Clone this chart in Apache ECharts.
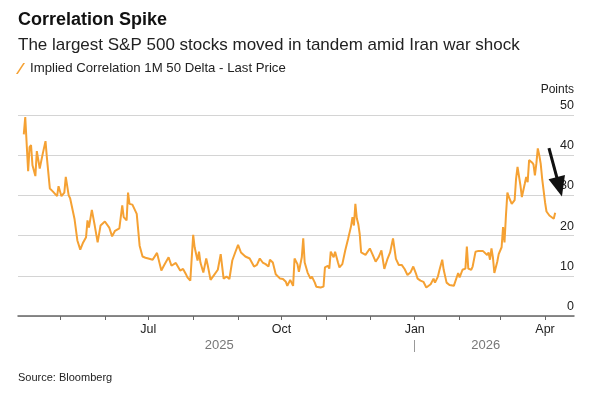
<!DOCTYPE html>
<html>
<head>
<meta charset="utf-8">
<script src="https://cdn.jsdelivr.net/npm/echarts@6/dist/echarts.min.js"></script>
<style>
  html, body { margin: 0; padding: 0; background: #fff; }
  #chart { width: 606px; height: 397px; }
</style>
</head>
<body>
<div id="chart"></div>
<script>
// implied correlation
const dates = [
  '2025-04-06','2025-04-07','2025-04-09','2025-04-10','2025-04-11','2025-04-12','2025-04-14','2025-04-15','2025-04-17','2025-04-19',
  '2025-04-21','2025-04-22','2025-04-24','2025-04-26','2025-04-27','2025-04-29','2025-04-30','2025-05-02','2025-05-04','2025-05-05',
  '2025-05-07','2025-05-08','2025-05-11','2025-05-13','2025-05-15','2025-05-17','2025-05-19','2025-05-20','2025-05-21','2025-05-23',
  '2025-05-25','2025-05-27','2025-05-29','2025-06-01','2025-06-04','2025-06-06','2025-06-08','2025-06-11','2025-06-13','2025-06-14',
  '2025-06-16','2025-06-17','2025-06-18','2025-06-20','2025-06-23','2025-06-25','2025-06-27','2025-06-29','2025-07-01','2025-07-04',
  '2025-07-07','2025-07-10','2025-07-12','2025-07-15','2025-07-17','2025-07-20','2025-07-21','2025-07-23','2025-07-25','2025-07-27',
  '2025-07-28','2025-07-30','2025-08-01','2025-08-02','2025-08-04','2025-08-05','2025-08-06','2025-08-08','2025-08-10','2025-08-11',
  '2025-08-13','2025-08-15','2025-08-18','2025-08-20','2025-08-22','2025-08-24','2025-08-26','2025-08-28','2025-08-30','2025-09-01',
  '2025-09-03','2025-09-06','2025-09-09','2025-09-12','2025-09-14','2025-09-16','2025-09-18','2025-09-20','2025-09-22','2025-09-23',
  '2025-09-25','2025-09-27','2025-09-28','2025-09-30','2025-10-02','2025-10-04','2025-10-05','2025-10-07','2025-10-09','2025-10-10',
  '2025-10-12','2025-10-13','2025-10-15','2025-10-16','2025-10-17','2025-10-19','2025-10-21','2025-10-22','2025-10-24','2025-10-25',
  '2025-10-28','2025-10-30','2025-10-31','2025-11-02','2025-11-03','2025-11-04','2025-11-06','2025-11-07','2025-11-09','2025-11-10',
  '2025-11-12','2025-11-14','2025-11-16','2025-11-18','2025-11-19','2025-11-20','2025-11-21','2025-11-22','2025-11-23','2025-11-24',
  '2025-11-25','2025-11-28','2025-11-29','2025-12-01','2025-12-03','2025-12-05','2025-12-07','2025-12-09','2025-12-11','2025-12-13',
  '2025-12-15','2025-12-17','2025-12-19','2025-12-21','2025-12-22','2025-12-23','2025-12-25','2025-12-27','2025-12-29','2025-12-31',
  '2026-01-02','2026-01-03','2026-01-05','2026-01-07','2026-01-09','2026-01-10','2026-01-12','2026-01-14','2026-01-15','2026-01-17',
  '2026-01-18','2026-01-20','2026-01-21','2026-01-23','2026-01-25','2026-01-28','2026-01-29','2026-01-31','2026-02-01','2026-02-03',
  '2026-02-05','2026-02-06','2026-02-07','2026-02-09','2026-02-10','2026-02-12','2026-02-14','2026-02-17','2026-02-18','2026-02-20',
  '2026-02-21','2026-02-22','2026-02-23','2026-02-24','2026-02-25','2026-02-27','2026-02-28','2026-03-02','2026-03-03','2026-03-04',
  '2026-03-05','2026-03-06','2026-03-07','2026-03-09','2026-03-11','2026-03-12','2026-03-13','2026-03-15','2026-03-16','2026-03-17',
  '2026-03-18','2026-03-19','2026-03-20','2026-03-21','2026-03-23','2026-03-24','2026-03-25','2026-03-26','2026-03-27','2026-03-28',
  '2026-03-29','2026-03-30','2026-04-01','2026-04-02','2026-04-04','2026-04-05','2026-04-07','2026-04-08'
];
const values = [
  45.2, 49.5, 36, 42, 42.5, 37.5, 34.8, 41, 36.7, 40.2,
  43.5, 39.2, 31.7, 31, 30.7, 29.8, 32.3, 29.8, 30.7, 34.6,
  30, 29.3, 24.2, 18.8, 16.5, 18.3, 19.6, 23.8, 22, 26.4,
  22.5, 18.3, 22.5, 23.5, 22, 19.8, 21.2, 21.8, 27.5, 24.6,
  23.8, 30.7, 27.9, 27.7, 25.4, 17.5, 14.8, 14.5, 14.3, 14,
  15.7, 11.3, 12.7, 14.6, 12.5, 13.2, 13.5, 11.3, 11.7, 10.4,
  9.6, 8.8, 20.2, 17.1, 13.8, 16, 13.3, 10.8, 14.3, 12.7,
  9, 10, 11.5, 15.4, 9.3, 9.8, 9.2, 13.8, 15.8, 17.7,
  15.8, 14.8, 14.3, 12.3, 12.7, 14.3, 13.3, 12.9, 12.3, 14,
  13.3, 10.4, 10.3, 9.3, 9.2, 8.5, 7.5, 9, 7.5, 14.3,
  12.9, 11, 14.6, 19.3, 13.3, 10.8, 9.3, 9.8, 8.3, 7.3,
  7.1, 7.3, 12.1, 12.5, 11.8, 16, 14.6, 16, 13.3, 12.1,
  12.9, 16.3, 19.2, 22.3, 24.6, 22.5, 27.9, 24.3, 22.9, 20.4,
  15.8, 15.2, 14.8, 16.8, 15.2, 13.5, 14.6, 16.3, 11.7, 14,
  15.8, 19.3, 14.2, 12.7, 12.3, 12.7, 11.7, 10.2, 10.8, 12.3,
  10.4, 9.3, 8.8, 8.5, 7.1, 7.5, 7.9, 9.3, 8.3, 9.8,
  11.3, 14, 11.5, 8.3, 7.7, 7.5, 7.5, 10.7, 9.6, 11.5,
  11.8, 17.3, 11.8, 11.5, 12.3, 16, 16.2, 16.2, 16, 15.2,
  15.8, 14, 16.8, 14.6, 10.7, 13.5, 15.4, 17.1, 22.1, 18.3,
  25, 30.7, 29.6, 27.9, 28.8, 34.2, 37.1, 32.5, 29.6, 29.3,
  32.9, 34.6, 33.3, 38.8, 38.2, 37.7, 35, 37.9, 41.7, 40,
  37.9, 34.2, 28.3, 26, 25, 24.6, 24.2, 25.7
];

const seriesName = 'Implied Correlation 1M 50 Delta - Last Price';
const xMin = '2025-04-02';
const xMax = '2026-04-21';
const monthTicks = ['2025-05-01','2025-06-01','2025-07-01','2025-08-01','2025-09-01','2025-10-01',
  '2025-11-01','2025-12-01','2026-01-01','2026-02-01','2026-03-01','2026-04-01'];
const monthLabels = ['2025-07-01','2025-10-01','2026-01-01','2026-04-01'];
const yearLabels = ['2025-08-19','2026-02-19'];
const yearDivider = ['2026-01-01'];
const yTicks = [0, 10, 20, 30, 40, 50];
// arrow annotation: [date, value] from tail to head centre
const arrowFrom = ['2026-04-03T17:00', 41.75];
const arrowTo = ['2026-04-10T21:00', 32.15];

const MONTHS = ['Jan','Feb','Mar','Apr','May','Jun','Jul','Aug','Sep','Oct','Nov','Dec'];
const ts = s => +new Date(s.length === 10 ? s + 'T00:00:00' : s);
const FONT = '"Liberation Sans", Arial, Helvetica, sans-serif';

const chart = echarts.init(document.getElementById('chart'));
const option = {
  backgroundColor: '#fff',
  animation: false,
  textStyle: { fontFamily: FONT },
  title: {
    text: 'Correlation Spike',
    subtext: 'The largest S&P 500 stocks moved in tandem amid Iran war shock',
    left: 18,
    top: 11,
    padding: 0,
    itemGap: 8,
    textStyle: { fontSize: 18, fontWeight: 'bold', color: '#111', fontFamily: FONT },
    subtextStyle: { fontSize: 17, color: '#222', fontFamily: FONT }
  },
  legend: {
    left: 16,
    top: 62,
    padding: 0,
    itemWidth: 9,
    itemHeight: 11,
    itemGap: 6,
    icon: 'path://M8,0 L10,0 L2,12 L0,12 Z',
    textStyle: { fontSize: 13.2, color: '#222', fontFamily: FONT },
    data: [seriesName]
  },
  grid: { left: 18, right: 32, top: 115, bottom: 81 },
  xAxis: [{
    type: 'value',
    min: ts(xMin),
    max: ts(xMax),
    axisLine: { lineStyle: { color: '#666', width: 1.5 } },
    axisTick: { customValues: monthTicks.map(ts), length: 4, lineStyle: { color: '#666', width: 1 } },
    axisLabel: {
      customValues: monthLabels.map(ts),
      formatter: v => MONTHS[new Date(v).getMonth()],
      color: '#222', fontSize: 12.5, margin: 7
    },
    splitLine: { show: false }
  }, {
    type: 'value',
    min: ts(xMin),
    max: ts(xMax),
    position: 'bottom',
    offset: 24,
    axisLine: { show: false },
    axisTick: { show: true, customValues: yearDivider.map(ts), length: 12, lineStyle: { color: '#999', width: 1 } },
    axisLabel: {
      customValues: yearLabels.map(ts),
      formatter: v => String(new Date(v).getFullYear()),
      color: '#777', fontSize: 13, margin: -1
    },
    splitLine: { show: false }
  }],
  yAxis: {
    type: 'value',
    position: 'right',
    min: yTicks[0],
    max: yTicks[yTicks.length - 1],
    interval: 10,
    name: 'Points',
    nameLocation: 'end',
    nameGap: 19,
    nameTextStyle: { align: 'right', color: '#222', fontSize: 12, fontFamily: FONT },
    axisLine: { show: false },
    axisTick: { show: false },
    axisLabel: { inside: true, margin: 0, verticalAlign: 'bottom', padding: [0, 0, 3, 0], color: '#222', fontSize: 12.5 },
    splitLine: { lineStyle: { color: '#d4d4d4', width: 1 } }
  },
  series: [{
    name: seriesName,
    type: 'line',
    xAxisIndex: 0,
    data: dates.map((d, i) => [ts(d), values[i]]),
    symbol: 'none',
    color: '#F5A133',
    lineStyle: { color: '#F5A133', width: 2 },
    emphasis: { disabled: true },
    markLine: {
      silent: true,
      symbol: ['none', 'triangle'],
      symbolSize: [17, 20],
      label: { show: false },
      lineStyle: { color: '#111', width: 3, type: 'solid' },
      data: [[{ coord: [ts(arrowFrom[0]), arrowFrom[1]] }, { coord: [ts(arrowTo[0]), arrowTo[1]] }]]
    }
  }],
  graphic: [{
    type: 'text',
    left: 18,
    top: 372,
    style: { text: 'Source: Bloomberg', fontSize: 11, fill: '#222', font: '11px ' + FONT }
  }]
};
chart.setOption(option);
window.addEventListener('resize', () => chart.resize());
</script>
</body>
</html>
